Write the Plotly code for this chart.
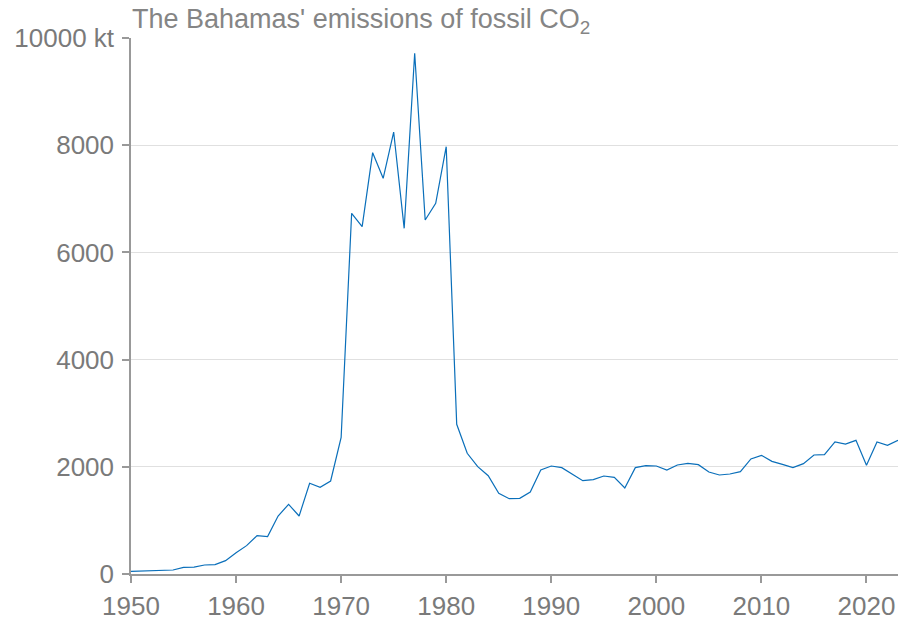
import plotly.graph_objects as go

years = list(range(1950, 2024))
emissions_kt = [
    50, 58, 66, 70, 75, 125, 130, 168, 174, 249,
    398, 529, 716, 697, 1082, 1300, 1082, 1692, 1617, 1735,
    2550, 6729, 6480, 7860, 7382, 8246, 6449, 9714, 6604, 6916,
    7972, 2793, 2252, 2002, 1834, 1505, 1405, 1412, 1530, 1940,
    2015, 1984, 1860, 1741, 1760, 1828, 1804, 1604, 1984, 2021,
    2015, 1940, 2034, 2065, 2040, 1903, 1847, 1866, 1909, 2146,
    2214, 2102, 2046, 1984, 2059, 2220, 2226, 2463, 2425, 2494,
    2028, 2463, 2400, 2494,
]
y_tickvals = [0, 2000, 4000, 6000, 8000, 10000]
y_ticktext = ["0", "2000", "4000", "6000", "8000", "10000 kt"]
x_tickvals = [1950, 1960, 1970, 1980, 1990, 2000, 2010, 2020]
title_text = "The Bahamas' emissions of fossil CO<sub>2</sub>"

fig = go.Figure()
fig.add_trace(go.Scatter(
    x=years, y=emissions_kt, mode="lines",
    line=dict(color="#0a6fba", width=1.2),
    hoverinfo="x+y",
))

tick_font = dict(family="Liberation Sans, Arial, sans-serif", size=26, color="#7a7a7a")

fig.update_layout(
    width=901, height=621,
    margin=dict(l=131, r=3, t=38, b=47, autoexpand=False),
    paper_bgcolor="white", plot_bgcolor="white",
    showlegend=False,
    xaxis=dict(
        range=[1950, 2023], tickvals=x_tickvals,
        showgrid=False, zeroline=False,
        showline=True, linecolor="#999999", linewidth=1.5,
        ticks="outside", ticklen=7, tickcolor="#999999", tickwidth=1.5,
        tickfont=tick_font, ticklabelstandoff=1,
    ),
    yaxis=dict(
        range=[0, 10000], tickvals=y_tickvals, ticktext=y_ticktext,
        showgrid=True, gridcolor="#e0e0e0", gridwidth=1,
        zeroline=False,
        showline=True, linecolor="#999999", linewidth=1.5,
        ticks="outside", ticklen=7, tickcolor="#999999", tickwidth=1.5,
        tickfont=tick_font, ticklabelstandoff=3,
    ),
    annotations=[dict(
        text=title_text, xref="paper", yref="paper",
        x=0, y=1, xanchor="left", yanchor="bottom",
        xshift=-1, yshift=-2,
        showarrow=False,
        font=dict(family="Liberation Sans, Arial, sans-serif", size=27, color="#858585"),
    )],
)

fig.write_html(
    "out.html",
    config={"displayModeBar": False},
    post_script="document.body.style.margin='0';document.body.style.overflow='hidden';",
)
